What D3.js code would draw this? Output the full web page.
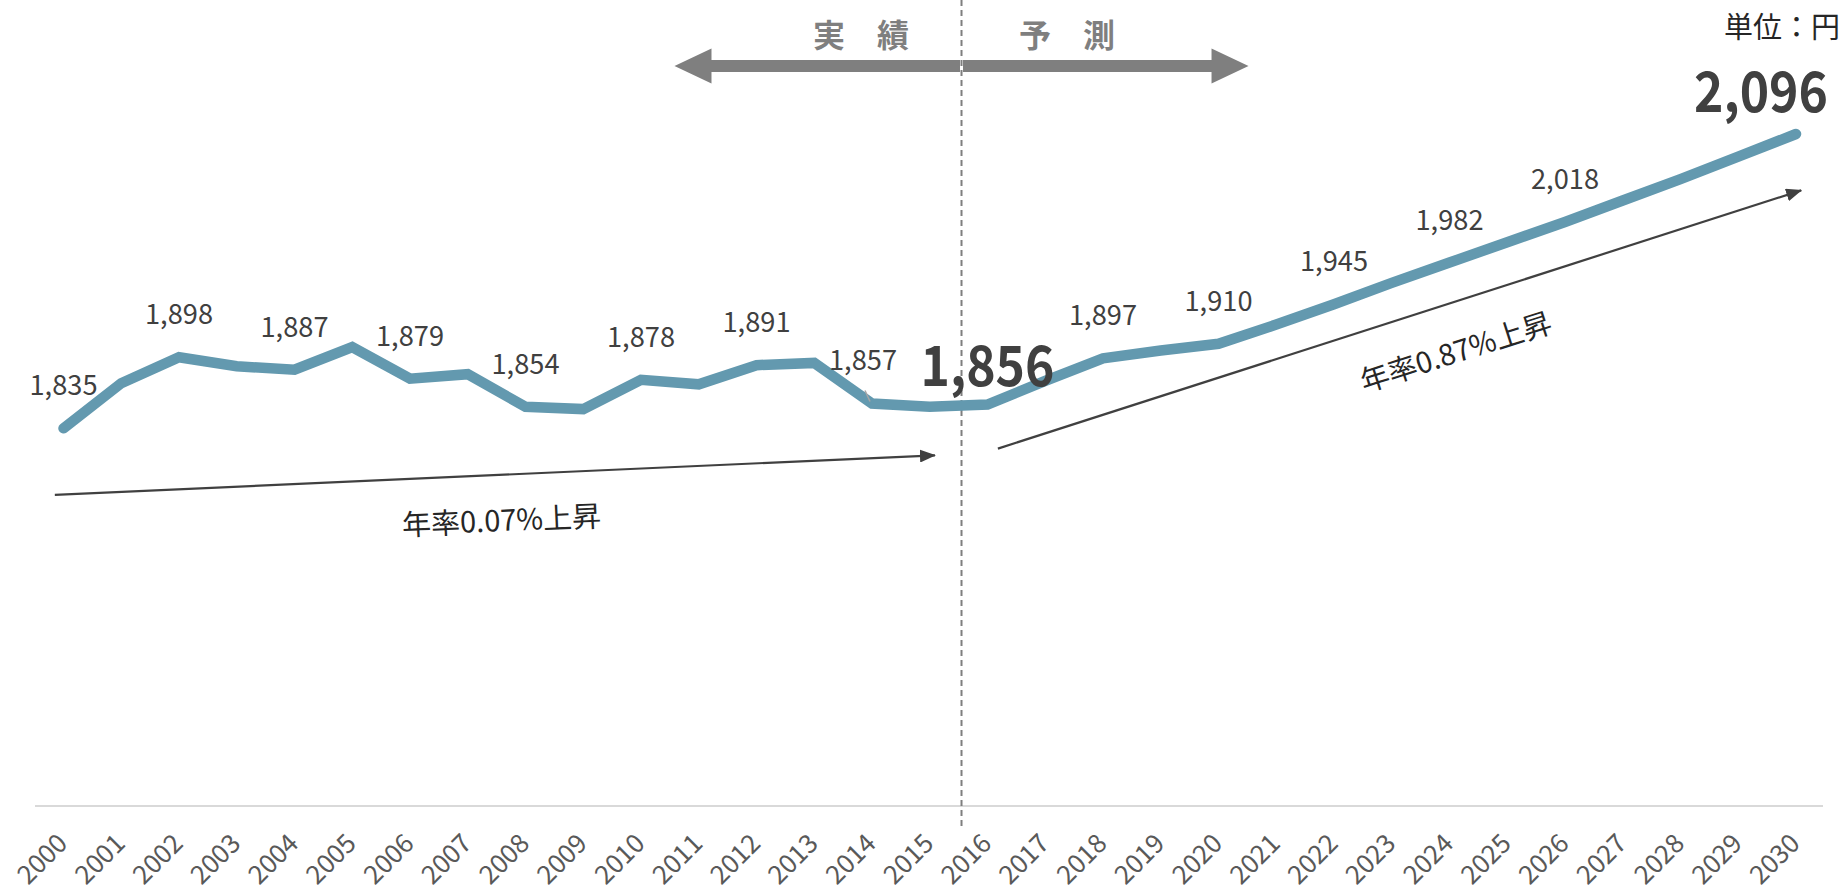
<!DOCTYPE html>
<html>
<head>
<meta charset="utf-8">
<script src="https://cdn.jsdelivr.net/npm/d3@7"></script>
<style>
  html, body { margin: 0; padding: 0; background: #fff; }
  svg { display: block; }
  text { font-family: "Noto Sans CJK JP", "Noto Sans", sans-serif; }
</style>
</head>
<body>
<svg id="chart" width="1844" height="893"></svg>
<script>
// ---- data ----
const years = [2000,2001,2002,2003,2004,2005,2006,2007,2008,2009,2010,2011,2012,2013,2014,2015,
               2016,2017,2018,2019,2020,2021,2022,2023,2024,2025,2026,2027,2028,2029,2030];
const values = [1835,1875,1898,1890,1887,1907,1879,1883,1854,1852,1878,1874,1891,1893,1857,1854,
                1856,1877,1897,1904,1910,1927,1945,1964,1982,2000,2018,2037,2056,2076,2096];
const smallLabelYears = [2000,2002,2004,2006,2008,2010,2012,2014,2018,2020,2022,2024,2026];
const bigLabelYears = [2016, 2030];
const splitYear = 2015.55;           // 実績 / 予測 boundary
const periodLabels = ["実　績", "予　測"];
const unitLabel = "単位：円";
// trend annotations [startYear, startValue, endYear, endValue, label]
const trend1 = [1999.85, 1776, 2015.09, 1811, "年率0.07%上昇"];
const trend2 = [2016.18, 1817, 2030.09, 2046, "年率0.87%上昇"];

// ---- layout ----
const svg = d3.select("#chart");
const x = d3.scaleLinear().domain([2000, 2030]).range([63.5, 1796]);
const y = d3.scaleLinear().domain([1500, 2100]).range([806, 129.5]);
const lineColor = "#6399af";
const fmt = d3.format(",");

// axis baseline
svg.append("line")
  .attr("x1", 35).attr("x2", 1823)
  .attr("y1", y(1500)).attr("y2", y(1500))
  .attr("stroke", "#d9d9d9").attr("stroke-width", 2);

// tick labels
const axis = d3.axisBottom(x).tickValues(years).tickFormat(d3.format("d")).tickSize(0);
const gAxis = svg.append("g").attr("transform", `translate(0,${y(1500)})`).call(axis);
gAxis.select(".domain").remove();
gAxis.selectAll("text")
  .attr("font-size", 26)
  .attr("fill", "#595959")
  .attr("font-family", "'Noto Sans CJK JP', sans-serif")
  .attr("text-anchor", "end")
  .attr("dy", 0)
  .attr("y", 0)
  .attr("transform", "translate(5,39) rotate(-45)");

// dashed split line
svg.append("line")
  .attr("x1", x(splitYear)).attr("x2", x(splitYear))
  .attr("y1", 0).attr("y2", 828)
  .attr("stroke", "#7f7f7f").attr("stroke-width", 2)
  .attr("stroke-dasharray", "6,4");

// top double arrow (two arrows meeting at the split)
function arrowPoly(x0, xTip, yc, shaftHalf, headHalf, headLen) {
  const dir = Math.sign(xTip - x0);
  const xb = xTip - dir * headLen;
  return [[x0, yc - shaftHalf],[xb, yc - shaftHalf],[xb, yc - headHalf],[xTip, yc],
          [xb, yc + headHalf],[xb, yc + shaftHalf],[x0, yc + shaftHalf]];
}
const arrowY = 66;
const halfSpan = 4.97;
[[x(splitYear) - 1.5, x(splitYear - halfSpan)], [x(splitYear) + 1.5, x(splitYear + halfSpan)]]
  .forEach(([a, b]) => {
    svg.append("polygon")
      .attr("points", arrowPoly(a, b, arrowY, 6, 17.5, 37).map(p => p.join(",")).join(" "))
      .attr("fill", "#7f7f7f");
  });
svg.append("text").text(periodLabels[0])
  .attr("x", 861).attr("y", 47).attr("text-anchor", "middle")
  .attr("font-size", 32).attr("font-weight", "bold").attr("fill", "#7f7f7f");
svg.append("text").text(periodLabels[1])
  .attr("x", 1067).attr("y", 47).attr("text-anchor", "middle")
  .attr("font-size", 32).attr("font-weight", "bold").attr("fill", "#7f7f7f");

// unit label
svg.append("text").text(unitLabel)
  .attr("x", 1840).attr("y", 38).attr("text-anchor", "end")
  .attr("font-size", 29).attr("fill", "#262626");

// trend arrows
const defs = svg.append("defs");
defs.append("marker").attr("id", "ah")
  .attr("viewBox", "0 0 16 13").attr("refX", 15).attr("refY", 6.5)
  .attr("markerWidth", 16).attr("markerHeight", 13).attr("markerUnits", "userSpaceOnUse")
  .attr("orient", "auto")
  .append("path").attr("d", "M0,0 L16,6.5 L0,13 Z").attr("fill", "#404040");

[trend1, trend2].forEach((t, i) => {
  const x1 = x(t[0]), y1 = y(t[1]), x2 = x(t[2]), y2 = y(t[3]);
  svg.append("line")
    .attr("x1", x1).attr("y1", y1).attr("x2", x2).attr("y2", y2)
    .attr("stroke", "#404040").attr("stroke-width", 2.2)
    .attr("marker-end", "url(#ah)");
  const ang = Math.atan2(y2 - y1, x2 - x1) * 180 / Math.PI;
  const cx = i === 0 ? 502 : 1459;
  const cy = i === 0 ? 531 : 362;
  svg.append("text").text(t[4])
    .attr("text-anchor", "middle")
    .attr("transform", `translate(${cx},${cy}) rotate(${ang})`)
    .attr("font-size", 29).attr("fill", "#262626");
});

// main line
const data = years.map((yr, i) => ({year: yr, value: values[i]}));
svg.append("path").datum(data)
  .attr("d", d3.line().x(d => x(d.year)).y(d => y(d.value)))
  .attr("fill", "none").attr("stroke", lineColor).attr("stroke-width", 10.5)
  .attr("stroke-linecap", "round").attr("stroke-linejoin", "miter");

// small data labels
const small = data.filter(d => smallLabelYears.includes(d.year));
svg.selectAll("text.dl").data(small).enter().append("text")
  .attr("class", "dl")
  .attr("x", d => x(d.year) + (d.year === 2014 ? -9 : 0))
  .attr("y", d => y(d.value) - 33)
  .attr("text-anchor", "middle")
  .attr("font-size", 28).attr("fill", "#404040")
  .attr("textLength", 68).attr("lengthAdjust", "spacingAndGlyphs")
  .text(d => fmt(d.value));

// leader line for 2014 label
const d14 = data.find(d => d.year === 2014);
svg.append("line")
  .attr("x1", x(d14.year) - 7).attr("y1", y(d14.value) - 13)
  .attr("x2", x(d14.year) - 2).attr("y2", y(d14.value) - 2)
  .attr("stroke", "#a6a6a6").attr("stroke-width", 1.5);

// big data labels
const big = data.filter(d => bigLabelYears.includes(d.year));
svg.selectAll("text.bl").data(big).enter().append("text")
  .attr("class", "bl")
  .attr("x", d => d.year === 2030 ? x(d.year) + 32 : x(d.year))
  .attr("y", d => y(d.value) - (d.year === 2030 ? 22 : 19))
  .attr("text-anchor", d => d.year === 2030 ? "end" : "middle")
  .attr("font-size", 56).attr("font-weight", "bold").attr("fill", "#404040")
  .attr("textLength", 134).attr("lengthAdjust", "spacingAndGlyphs")
  .text(d => fmt(d.value));
</script>
</body>
</html>
